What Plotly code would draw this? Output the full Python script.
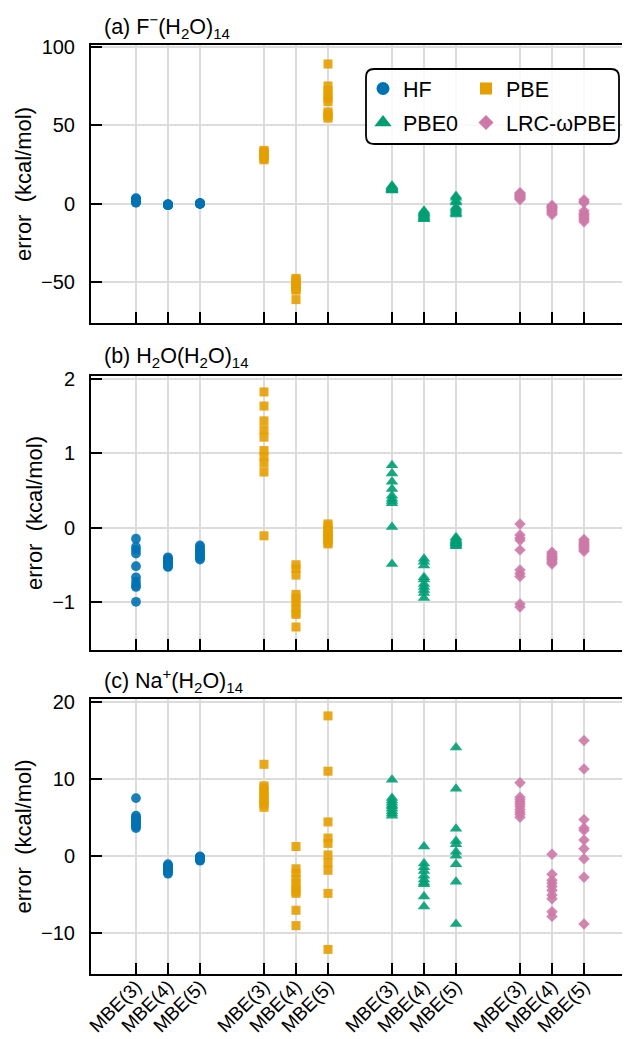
import plotly.graph_objects as go

# ---------------- data ----------------
methods = ["HF", "PBE", "PBE0", "LRC-ωPBE"]
orders = ["MBE(3)", "MBE(4)", "MBE(5)"]
tick_labels = orders * 4

# panel (a) F-(H2O)14
a_HF = [[3.6, 3.2, 2.9, 2.6, 2.3, 2.0, 1.7, 1.4, 1.0, 0.6],
        [-0.3, -0.4, -0.5, -0.55, -0.6, -0.65, -0.7, -0.75, -0.8, -0.9],
        [0.4, 0.35, 0.3, 0.25, 0.2, 0.15, 0.1, 0.05, 0.0, -0.05]]
a_PBE = [[34, 33, 32.5, 32, 31.5, 31, 30.5, 30, 29, 28],
         [-47.5, -48.5, -49.5, -50.5, -51.5, -52.5, -53.5, -54.5, -55, -61],
         [89, 75, 72, 69.5, 67, 65, 58.5, 57, 56, 54.5]]
a_PBE0 = [[11.5, 11, 10.5, 10, 9.8, 9.5, 9.2, 9.0, 8.7, 8.4],
          [-4.5, -5.2, -5.8, -6.4, -7.0, -7.6, -8.2, -8.8, -9.4, -9.9],
          [4.9, 3.8, 1.7, 0.8, -2.0, -3.0, -4.0, -5.0, -6.0, -6.8]]
a_LRC = [[7.0, 6.5, 6.0, 5.5, 5.0, 4.7, 4.3, 3.8, 3.2, 2.7],
         [-1.0, -1.5, -2.0, -2.5, -3.0, -3.8, -4.5, -5.3, -6.0, -6.8],
         [2.5, 1.5, 0.6, -4.5, -6.0, -7.0, -8.0, -9.0, -10.2, -11.4]]

# panel (b) H2O(H2O)14
b_HF = [[-0.15, -0.26, -0.30, -0.35, -0.52, -0.67, -0.73, -0.78, -0.80, -1.0],
        [-0.40, -0.42, -0.43, -0.45, -0.46, -0.48, -0.49, -0.50, -0.52, -0.53],
        [-0.24, -0.26, -0.29, -0.31, -0.33, -0.35, -0.37, -0.39, -0.41, -0.43]]
b_PBE = [[1.83, 1.64, 1.44, 1.32, 1.22, 1.04, 0.96, 0.87, 0.75, -0.11],
         [-0.50, -0.55, -0.64, -0.90, -0.95, -1.02, -1.08, -1.15, -1.17, -1.34],
         [0.05, 0.02, -0.02, -0.05, -0.08, -0.11, -0.14, -0.17, -0.20, -0.22]]
b_PBE0 = [[0.84, 0.73, 0.62, 0.52, 0.43, 0.39, 0.36, 0.33, 0.01, -0.49],
          [-0.42, -0.46, -0.51, -0.67, -0.70, -0.76, -0.80, -0.84, -0.88, -0.95],
          [-0.13, -0.15, -0.17, -0.18, -0.19, -0.20, -0.21, -0.22, -0.24, -0.25]]
b_LRC = [[0.05, -0.10, -0.14, -0.17, -0.30, -0.57, -0.62, -0.66, -1.03, -1.07],
         [-0.33, -0.35, -0.37, -0.39, -0.40, -0.42, -0.43, -0.45, -0.47, -0.49],
         [-0.16, -0.18, -0.20, -0.22, -0.23, -0.25, -0.26, -0.28, -0.30, -0.32]]

# panel (c) Na+(H2O)14
c_HF = [[7.5, 5.2, 5.0, 4.8, 4.6, 4.4, 4.2, 4.0, 3.8, 3.6],
        [-1.1, -1.3, -1.4, -1.6, -1.7, -1.8, -1.9, -2.0, -2.2, -2.35],
        [-0.1, -0.15, -0.2, -0.25, -0.3, -0.35, -0.4, -0.5, -0.55, -0.65]]
c_PBE = [[11.9, 9.1, 8.8, 8.4, 8.0, 7.6, 7.3, 7.0, 6.7, 6.3],
         [1.2, -1.7, -2.3, -3.0, -3.6, -4.2, -4.6, -4.9, -7.1, -9.1],
         [18.2, 11.0, 4.4, 2.3, 1.6, 0.1, -0.9, -1.9, -4.9, -12.2]]
c_PBE0 = [[9.9, 7.5, 7.2, 6.9, 6.6, 6.4, 6.1, 5.8, 5.5, 5.2],
          [1.2, -1.0, -1.5, -2.0, -2.6, -3.1, -3.5, -3.7, -5.3, -6.6],
          [14.1, 8.7, 3.5, 1.9, 1.5, 0.5, 0.0, -1.1, -3.4, -8.9]]
c_LRC = [[9.5, 7.6, 7.3, 7.0, 6.7, 6.4, 6.0, 5.7, 5.4, 5.0],
         [0.2, -2.4, -3.2, -3.6, -4.0, -4.5, -5.1, -5.6, -7.3, -7.9],
         [15.0, 11.3, 4.7, 3.6, 3.3, 2.05, 0.9, -0.4, -2.8, -8.9]]

panels = [
    ("(a) F<sup>−</sup>(H<sub>2</sub>O)<sub>14</sub>", [a_HF, a_PBE, a_PBE0, a_LRC],
     [-75.9, 101.1], [-50, 0, 50, 100]),
    ("(b) H<sub>2</sub>O(H<sub>2</sub>O)<sub>14</sub>", [b_HF, b_PBE, b_PBE0, b_LRC],
     [-1.65, 2.045], [-1, 0, 1, 2]),
    ("(c) Na<sup>+</sup>(H<sub>2</sub>O)<sub>14</sub>", [c_HF, c_PBE, c_PBE0, c_LRC],
     [-15.4, 20.4], [-10, 0, 10, 20]),
]

colors = ["#0072B2", "#E69F00", "#009E73", "#CC79A7"]
symbols = ["circle", "square", "triangle-up", "diamond"]
sizes = [9.8, 9, 11, 8.8]
leg_sizes = [13, 12, 15, 11.5]

# ---------------- layout geometry (reference-page pixels) ----------------
OFF = 8                      # page body margin of the browser
W, H = 630 - OFF, 1039 - OFF
L, R, T, B = 91, 624, 45, 974   # plot box in page pixels
PW, PH = R - L, B - T
def yp(y):
    return (B - y) / PH
def xp(x):
    return (x - L) / PW

panel_px = [(45, 323), (376, 650), (699, 974)]
title_y = [26, 357, 680]

FONT = "Liberation Sans, Arial, Helvetica, sans-serif"
fig = go.Figure()

positions = []
for m in range(len(methods)):
    for k in range(len(orders)):
        positions.append(m * 4 + k)

for p, (title, data, yr, yt) in enumerate(panels):
    xa = "x" if p == 0 else f"x{p+1}"
    ya = "y" if p == 0 else f"y{p+1}"
    for m, series in enumerate(data):
        xs, ys = [], []
        for k, vals in enumerate(series):
            xs += [positions[m * 3 + k]] * len(vals)
            ys += vals
        fig.add_trace(go.Scatter(
            x=xs, y=ys, mode="markers", xaxis=xa, yaxis=ya, showlegend=False,
            marker=dict(symbol=symbols[m], size=sizes[m], color=colors[m],
                        opacity=0.9, line=dict(width=0)),
            hoverinfo="skip"))

    top, bot = panel_px[p]
    axis_common = dict(showline=True, linecolor="black", linewidth=2, mirror=True,
                       ticks="inside", ticklen=11, tickwidth=2, tickcolor="black",
                       showgrid=True, gridcolor="#dcdcdc", gridwidth=1.8,
                       zeroline=False,
                       tickfont=dict(family=FONT, size=20, color="black"))
    fig.layout[("xaxis" if p == 0 else f"xaxis{p+1}")] = dict(
        axis_common, domain=[0, 1], range=[-1.406, 15.25], anchor=ya,
        tickmode="array", tickvals=positions, ticktext=tick_labels,
        showticklabels=(p == 2), tickangle=-45, ticklabelstandoff=-8,
        tickfont=dict(family=FONT, size=19, color="black"))
    fig.layout[("yaxis" if p == 0 else f"yaxis{p+1}")] = dict(
        axis_common, domain=[yp(bot), yp(top)], range=yr, anchor=xa,
        tickmode="array", tickvals=yt, ticklabelstandoff=10,
        title=dict(text="error  (kcal/mol)", standoff=3,
                   font=dict(family=FONT, size=22, color="black")))
    fig.add_annotation(text=title, xref="paper", yref="paper",
                       x=xp(102), y=yp(title_y[p]), xanchor="left", yanchor="middle",
                       showarrow=False,
                       font=dict(family=FONT, size=21.5, color="black"))

# legend entries (legend-only dummy traces with larger symbols)
leg_assign = ["legend", "legend2", "legend", "legend2"]
for m in range(4):
    fig.add_trace(go.Scatter(
        x=[None], y=[None], mode="markers", name=methods[m],
        legend=leg_assign[m], legendgroup=methods[m],
        marker=dict(symbol=symbols[m], size=leg_sizes[m], color=colors[m])))

leg_common = dict(bgcolor="rgba(0,0,0,0)", borderwidth=0, yanchor="top", xanchor="left",
                  font=dict(family=FONT, size=21.5, color="black"), tracegroupgap=3,
                  itemclick=False)
fig.update_layout(
    legend=dict(leg_common, x=xp(363), y=yp(68)),
    legend2=dict(leg_common, x=xp(466), y=yp(68)),
)

# rounded legend frame
x0, x1, y0, y1, r = xp(366), xp(619), yp(69), yp(144), 8
rx, ry = r / PW, r / PH
path = (f"M {x0+rx},{y0} L {x1-rx},{y0} Q {x1},{y0} {x1},{y0-ry} "
        f"L {x1},{y1+ry} Q {x1},{y1} {x1-rx},{y1} L {x0+rx},{y1} "
        f"Q {x0},{y1} {x0},{y1+ry} L {x0},{y0-ry} Q {x0},{y0} {x0+rx},{y0} Z")
fig.add_shape(type="path", path=path, xref="paper", yref="paper",
              line=dict(color="black", width=1.8), fillcolor="rgba(255,255,255,0.85)",
              layer="above")

fig.update_layout(
    width=W, height=H,
    margin=dict(l=L - OFF, r=630 - R, t=T - OFF, b=1039 - B, autoexpand=False),
    paper_bgcolor="white", plot_bgcolor="white",
    font=dict(family=FONT, color="black"),
)

fig.write_html("out.html")
